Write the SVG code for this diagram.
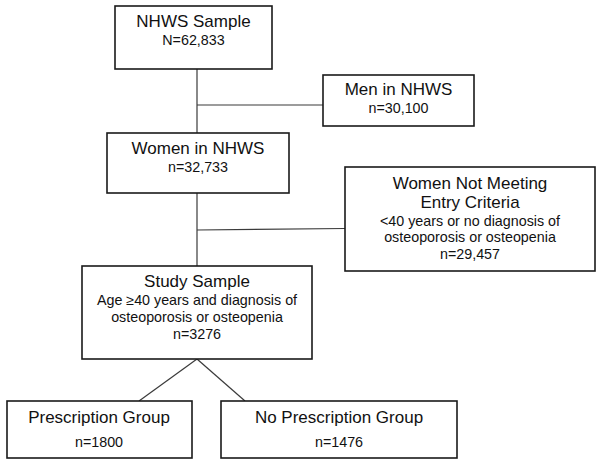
<svg xmlns="http://www.w3.org/2000/svg" width="600" height="463" viewBox="0 0 600 463">
<style>
.box{fill:#fff;stroke:#1a1a1a;stroke-width:1.6}
.ln{stroke:#3a3a3a;stroke-width:1.2;fill:none}
text{font-family:"Liberation Sans",Arial,sans-serif;fill:#111;text-anchor:middle}
.t{font-size:17px}
.s{font-size:14.3px}
</style>
<rect width="600" height="463" fill="#fff"/>
<g id="connectors">
<line class="ln" x1="197" y1="69" x2="197" y2="133"/>
<line class="ln" x1="197" y1="105" x2="323" y2="105"/>
<line class="ln" x1="197" y1="193" x2="197" y2="266"/>
<line class="ln" x1="197" y1="230" x2="345" y2="228.5"/>
<line class="ln" x1="197" y1="359" x2="139" y2="401"/>
<line class="ln" x1="197" y1="359" x2="245" y2="401"/>
</g>
<g id="nhws">
<rect class="box" x="115" y="6" width="157" height="63"/>
<text class="t" x="193.5" y="27">NHWS Sample</text>
<text class="s" x="193.5" y="45">N=62,833</text>
</g>
<g id="men">
<rect class="box" x="323" y="75" width="151" height="51"/>
<text class="t" x="398.5" y="95">Men in NHWS</text>
<text class="s" x="398.5" y="113">n=30,100</text>
</g>
<g id="women">
<rect class="box" x="107" y="133" width="182" height="60"/>
<text class="t" x="198" y="154">Women in NHWS</text>
<text class="s" x="198" y="172">n=32,733</text>
</g>
<g id="notmeeting">
<rect class="box" x="345" y="167" width="250" height="104"/>
<text class="t" x="470" y="189">Women Not Meeting</text>
<text class="t" x="470" y="208">Entry Criteria</text>
<text class="s" x="470" y="225.5">&lt;40 years or no diagnosis of</text>
<text class="s" x="470" y="242">osteoporosis or osteopenia</text>
<text class="s" x="470" y="259">n=29,457</text>
</g>
<g id="study">
<rect class="box" x="82" y="266" width="230" height="93"/>
<text class="t" x="197" y="287">Study Sample</text>
<text class="s" x="197" y="305">Age ≥40 years and diagnosis of</text>
<text class="s" x="197" y="322">osteoporosis or osteopenia</text>
<text class="s" x="197" y="338.5">n=3276</text>
</g>
<g id="rx">
<rect class="box" x="7" y="401" width="185" height="57"/>
<text class="t" x="99" y="423">Prescription Group</text>
<text class="s" x="99" y="447">n=1800</text>
</g>
<g id="norx">
<rect class="box" x="221" y="401" width="236" height="57"/>
<text class="t" x="339" y="423">No Prescription Group</text>
<text class="s" x="339" y="447">n=1476</text>
</g>
</svg>
